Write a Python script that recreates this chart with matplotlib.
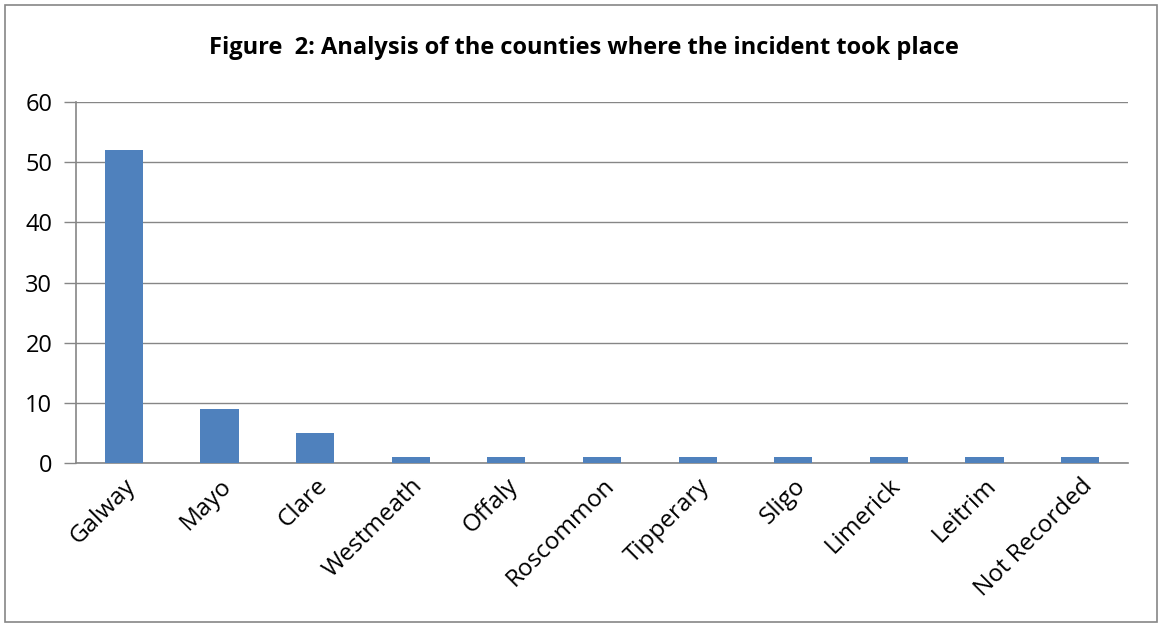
import numpy as np
import matplotlib.pyplot as plt
from matplotlib.patches import Rectangle

counties = ["Galway", "Mayo", "Clare", "Westmeath", "Offaly", "Roscommon",
            "Tipperary", "Sligo", "Limerick", "Leitrim", "Not Recorded"]
counts = [52, 9, 5, 1, 1, 1, 1, 1, 1, 1, 1]
y_ticks = [0, 10, 20, 30, 40, 50, 60]

plt.rcParams['font.family'] = ['Open Sans', 'DejaVu Sans']

fig = plt.figure(figsize=(11.61, 6.28), dpi=100)
W, H = 1161, 628
ax = fig.add_axes([76 / W, 1 - 463 / H, (1128 - 76) / W, (463 - 102) / H])

x = np.arange(len(counties))
ax.bar(x, counts, width=0.4, color='#4F81BD', zorder=3)
ax.set_xlim(-0.5, len(counties) - 0.5)
ax.set_ylim(0, 60)
ax.set_yticks(y_ticks)
ax.set_yticklabels([str(v) for v in y_ticks], fontsize=17)
ax.set_xticks(x)
ax.set_xticklabels(counties, rotation=45, ha='right', rotation_mode='anchor',
                   fontsize=17.5)
ax.tick_params(axis='x', length=0, pad=8)
ax.tick_params(axis='y', length=9, width=1, color='#868686', pad=8)
ax.yaxis.grid(True, color='#868686', linewidth=1, zorder=0)
for s in ['top', 'right']:
    ax.spines[s].set_visible(False)
for s in ['left', 'bottom']:
    ax.spines[s].set_color('#868686')
    ax.spines[s].set_linewidth(1.2)

fig.text(584 / W, 1 - 48 / H,
         "Figure  2: Analysis of the counties where the incident took place",
         ha='center', va='center', fontsize=17, fontweight='bold')

# outer chart border
fig.patches.append(Rectangle((5 / W, 1 - 622 / H), 1152 / W, 617 / H,
                             transform=fig.transFigure, fill=False,
                             edgecolor='#868686', linewidth=1.2))

plt.savefig("out.png", dpi=100)
